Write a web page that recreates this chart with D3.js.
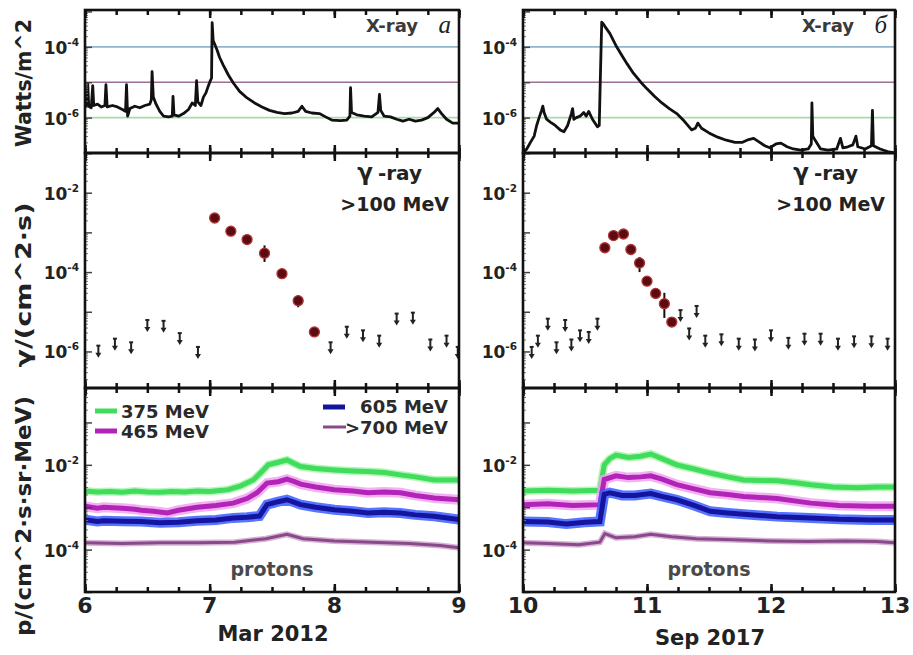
<!DOCTYPE html>
<html>
<head>
<meta charset="utf-8">
<script src="https://cdn.jsdelivr.net/npm/d3@7"></script>
<style>
    body { margin: 0; background: #fff; }
    svg { display: block; font-family: "DejaVu Sans", sans-serif; font-weight: bold; }
</style>
</head>
<body>
<svg id="chart" width="913" height="655"></svg>
<script>
// GOES X-ray flux, W/m^2  [day, flux]
const xrayMar = [
    [6.00, 2.0e-6], [6.015, 2.3e-6], [6.022, 9e-6], [6.03, 2.1e-6], [6.05, 1.9e-6], [6.062, 8e-6],
    [6.07, 2.2e-6], [6.10, 2.4e-6], [6.13, 2.0e-6], [6.16, 2.2e-6], [6.168, 8.5e-6], [6.178, 2.0e-6],
    [6.22, 2.2e-6], [6.26, 2.0e-6], [6.30, 1.7e-6], [6.325, 1.5e-6], [6.333, 8.5e-6], [6.342, 1.1e-6],
    [6.36, 1.8e-6], [6.40, 2.1e-6], [6.44, 1.9e-6], [6.48, 2.2e-6], [6.52, 2.4e-6], [6.532, 3.2e-6],
    [6.538, 2.0e-5], [6.548, 3.8e-6], [6.57, 2.4e-6], [6.60, 1.5e-6], [6.63, 1.1e-6], [6.67, 1.05e-6],
    [6.70, 1.1e-6], [6.706, 4e-6], [6.714, 1.2e-6], [6.75, 1.1e-6], [6.79, 1.3e-6], [6.83, 1.7e-6],
    [6.86, 2.6e-6], [6.885, 2.2e-6], [6.895, 1.1e-5], [6.905, 2.8e-6], [6.93, 2.2e-6], [6.95, 3.8e-6],
    [6.97, 5e-6], [6.99, 8e-6], [7.005, 1.1e-5], [7.015, 1.3e-5], [7.02, 4.8e-4], [7.028, 1.5e-4],
    [7.04, 1.2e-4], [7.06, 8e-5], [7.08, 5e-5], [7.11, 3e-5], [7.15, 1.6e-5], [7.19, 9.5e-6],
    [7.24, 5.5e-6], [7.30, 3.6e-6], [7.36, 2.6e-6], [7.42, 2.0e-6], [7.48, 1.6e-6], [7.54, 1.4e-6],
    [7.60, 1.3e-6], [7.66, 1.35e-6], [7.71, 1.5e-6], [7.74, 2.1e-6], [7.77, 1.5e-6], [7.82, 1.35e-6],
    [7.88, 1.3e-6], [7.93, 1.05e-6], [7.98, 8.5e-7], [8.05, 8.2e-7], [8.10, 8.5e-7], [8.125, 1.1e-6],
    [8.13, 7e-6], [8.138, 1.4e-6], [8.18, 1.2e-6], [8.24, 1.1e-6], [8.30, 1.05e-6], [8.35, 1.4e-6],
    [8.362, 4.5e-6], [8.372, 1.6e-6], [8.40, 1.1e-6], [8.45, 1.05e-6], [8.50, 9e-7], [8.55, 8e-7],
    [8.60, 9e-7], [8.65, 8e-7], [8.70, 8.5e-7], [8.75, 1.0e-6], [8.80, 1.4e-6], [8.83, 1.8e-6],
    [8.86, 1.3e-6], [8.90, 9e-7], [8.95, 7e-7], [9.00, 7e-7]
];

const xraySep = [
    [10.00, 1.0e-7], [10.03, 1.3e-7], [10.06, 2.0e-7], [10.09, 3.0e-7], [10.11, 6e-7], [10.13, 1.0e-6],
    [10.15, 1.6e-6], [10.16, 2.1e-6], [10.17, 1.4e-6], [10.19, 9e-7], [10.22, 7.5e-7], [10.26, 6e-7],
    [10.30, 4.5e-7], [10.33, 4e-7], [10.36, 6e-7], [10.39, 1.3e-6], [10.40, 1.8e-6], [10.41, 9e-7],
    [10.43, 1.0e-6], [10.46, 1.1e-6], [10.49, 1.4e-6], [10.51, 1.1e-6], [10.53, 1.5e-6], [10.56, 9e-7],
    [10.60, 5.5e-7], [10.615, 6e-7], [10.625, 2e-5], [10.635, 5e-4], [10.645, 4.6e-4], [10.66, 3.8e-4],
    [10.70, 2.4e-4], [10.755, 1.0e-4], [10.80, 5.5e-5], [10.84, 3.3e-5], [10.89, 1.8e-5], [10.95, 1.0e-5],
    [11.00, 6.5e-6], [11.06, 4.0e-6], [11.12, 2.6e-6], [11.18, 1.8e-6], [11.24, 1.3e-6], [11.30, 8e-7],
    [11.36, 4.5e-7], [11.39, 5e-7], [11.41, 7e-7], [11.44, 5e-7], [11.50, 3.7e-7], [11.57, 2.8e-7],
    [11.64, 2.3e-7], [11.71, 2.0e-7], [11.77, 2.0e-7], [11.82, 2.4e-7], [11.86, 2.6e-7], [11.90, 2.1e-7],
    [11.95, 1.6e-7], [11.99, 1.4e-7], [12.04, 1.8e-7], [12.08, 1.9e-7], [12.13, 1.5e-7], [12.18, 1.3e-7],
    [12.24, 1.2e-7], [12.30, 1.3e-7], [12.325, 1.8e-7], [12.33, 2.6e-6], [12.337, 3e-7], [12.35, 2.5e-7],
    [12.40, 1.3e-7], [12.46, 1.2e-7], [12.53, 1.3e-7], [12.56, 2.6e-7], [12.58, 1.4e-7], [12.62, 1.5e-7],
    [12.66, 1.7e-7], [12.685, 3.0e-7], [12.70, 1.5e-7], [12.76, 1.3e-7], [12.81, 1.6e-7], [12.818, 1.6e-6],
    [12.826, 1.6e-7], [12.88, 1.3e-7], [12.94, 1.1e-7], [13.00, 1.0e-7]
];

const flareClassLevels = [1e-4, 1e-5, 1e-6];
const flareClassColors = ["#8fb4cc", "#9c6f96", "#a9d9a9"];

// Fermi-LAT >100 MeV: detections [day, flux, low, high], upper limits [day, flux]
const gammaMar = [
    [7.04, 2.3e-3], [7.17, 1.07e-3], [7.30, 6.6e-4], [7.44, 3.0e-4, 1.8e-4, 4.7e-4],
    [7.58, 9.1e-5], [7.71, 1.9e-5, 1.3e-5, 2.6e-5], [7.84, 3.1e-6]
];
const gammaMarLimits = [
    [6.107, 1.4e-6], [6.24, 2.1e-6], [6.37, 1.7e-6], [6.50, 6.2e-6], [6.63, 5.9e-6], [6.76, 2.9e-6],
    [6.906, 1.3e-6], [7.97, 1.7e-6], [8.10, 4.2e-6], [8.23, 3.4e-6], [8.36, 2.5e-6], [8.50, 9.0e-6],
    [8.63, 9.5e-6], [8.77, 2.0e-6], [8.90, 2.5e-6], [8.99, 1.3e-6]
];
const gammaSep = [
    [10.66, 4.1e-4], [10.73, 8.3e-4], [10.81, 9.1e-4], [10.87, 3.7e-4, 2.8e-4, 5.0e-4],
    [10.94, 1.7e-4, 1.0e-4, 2.4e-4], [11.00, 5.9e-5], [11.07, 2.9e-5], [11.14, 1.6e-5, 7e-6, 3e-5],
    [11.20, 5.5e-6]
];
const gammaSepLimits = [
    [10.07, 1.3e-6], [10.12, 2.5e-6], [10.20, 6.7e-6], [10.27, 1.7e-6], [10.34, 6.2e-6], [10.39, 2.0e-6],
    [10.46, 3.4e-6], [10.53, 3.1e-6], [10.60, 6.7e-6], [11.27, 1.1e-5], [11.34, 3.8e-6], [11.40, 1.4e-5],
    [11.47, 2.5e-6], [11.60, 2.7e-6], [11.74, 2.1e-6], [11.87, 2.0e-6], [12.00, 3.4e-6], [12.14, 2.2e-6],
    [12.27, 2.8e-6], [12.40, 2.8e-6], [12.54, 2.1e-6], [12.67, 2.4e-6], [12.81, 2.4e-6], [12.94, 2.1e-6]
];

// proton fluxes, p/(cm^2 s sr MeV)  [day, flux]
const p375Mar = [
    [6.0, 2.4e-3], [6.1, 2.3e-3], [6.2, 2.35e-3], [6.3, 2.25e-3], [6.4, 2.4e-3], [6.5, 2.3e-3],
    [6.6, 2.25e-3], [6.7, 2.35e-3], [6.8, 2.3e-3], [6.9, 2.4e-3], [7.0, 2.35e-3], [7.1, 2.5e-3],
    [7.15, 2.6e-3], [7.25, 3.2e-3], [7.35, 4.4e-3], [7.42, 7e-3], [7.47, 1.0e-2], [7.55, 1.15e-2],
    [7.62, 1.3e-2], [7.67, 1.1e-2], [7.73, 9.1e-3], [7.85, 8.2e-3], [8.0, 7.6e-3], [8.15, 7.2e-3],
    [8.27, 7.0e-3], [8.4, 6.6e-3], [8.53, 5.8e-3], [8.65, 5.2e-3], [8.8, 4.4e-3], [9.0, 4.4e-3]
];
const p465Mar = [
    [6.0, 1.05e-3], [6.1, 9.5e-4], [6.15, 1.0e-3], [6.3, 9.5e-4], [6.4, 9e-4], [6.45, 8.5e-4],
    [6.55, 8e-4], [6.66, 7.3e-4], [6.75, 8.5e-4], [6.9, 1.0e-3], [7.05, 1.1e-3], [7.19, 1.25e-3],
    [7.3, 1.6e-3], [7.38, 2.2e-3], [7.46, 3.7e-3], [7.55, 4.0e-3], [7.62, 4.6e-3], [7.68, 4.0e-3],
    [7.73, 3.5e-3], [7.85, 3.0e-3], [8.0, 2.6e-3], [8.15, 2.4e-3], [8.27, 2.2e-3], [8.4, 2.3e-3],
    [8.53, 2.2e-3], [8.65, 1.9e-3], [8.8, 1.65e-3], [9.0, 1.5e-3]
];
const p605Mar = [
    [6.0, 5.1e-4], [6.1, 4.6e-4], [6.15, 4.8e-4], [6.3, 4.7e-4], [6.45, 4.6e-4], [6.6, 4.3e-4],
    [6.75, 4.4e-4], [6.9, 4.8e-4], [7.05, 5.0e-4], [7.19, 5.6e-4], [7.3, 5.8e-4], [7.4, 6.2e-4],
    [7.46, 1.15e-3], [7.55, 1.35e-3], [7.62, 1.5e-3], [7.68, 1.3e-3], [7.73, 1.15e-3], [7.85, 1.0e-3],
    [8.0, 8.7e-4], [8.15, 8.0e-4], [8.27, 7.3e-4], [8.4, 7.6e-4], [8.53, 7.3e-4], [8.65, 6.6e-4],
    [8.8, 6.1e-4], [9.0, 5.1e-4]
];
const p700Mar = [
    [6.0, 1.45e-4], [6.3, 1.4e-4], [6.6, 1.45e-4], [6.9, 1.45e-4], [7.2, 1.5e-4], [7.45, 1.8e-4],
    [7.62, 2.3e-4], [7.75, 1.8e-4], [8.0, 1.6e-4], [8.3, 1.5e-4], [8.6, 1.4e-4], [8.85, 1.25e-4],
    [9.0, 1.1e-4]
];
const p375Sep = [
    [10.0, 2.4e-3], [10.2, 2.5e-3], [10.4, 2.4e-3], [10.62, 2.5e-3], [10.655, 1.0e-2], [10.7, 1.4e-2],
    [10.75, 1.7e-2], [10.85, 1.5e-2], [10.95, 1.6e-2], [11.03, 1.8e-2], [11.12, 1.4e-2], [11.24, 1.0e-2],
    [11.38, 8.0e-3], [11.51, 6.4e-3], [11.65, 5.2e-3], [11.78, 4.4e-3], [11.92, 4.3e-3], [12.05, 4.2e-3],
    [12.2, 3.8e-3], [12.32, 3.4e-3], [12.5, 3.0e-3], [12.7, 2.9e-3], [12.85, 3.0e-3], [13.0, 3.0e-3]
];
const p465Sep = [
    [10.0, 1.15e-3], [10.2, 1.2e-3], [10.4, 1.1e-3], [10.62, 1.15e-3], [10.655, 4.5e-3], [10.75, 5.5e-3],
    [10.85, 5.0e-3], [10.95, 5.2e-3], [11.03, 5.5e-3], [11.12, 4.6e-3], [11.24, 3.4e-3], [11.38, 2.7e-3],
    [11.51, 2.2e-3], [11.65, 2.0e-3], [11.78, 1.8e-3], [12.05, 1.6e-3], [12.32, 1.25e-3], [12.55, 1.1e-3],
    [12.8, 1.05e-3], [13.0, 1.05e-3]
];
const p605Sep = [
    [10.0, 4.6e-4], [10.2, 4.5e-4], [10.35, 4.0e-4], [10.5, 4.4e-4], [10.62, 4.6e-4], [10.655, 2.0e-3],
    [10.7, 2.2e-3], [10.8, 1.9e-3], [10.9, 1.9e-3], [11.03, 2.1e-3], [11.12, 1.8e-3], [11.24, 1.5e-3],
    [11.38, 1.1e-3], [11.51, 8.0e-4], [11.65, 7.3e-4], [11.78, 6.8e-4], [12.05, 6.0e-4], [12.32, 5.6e-4],
    [12.55, 5.2e-4], [12.8, 5.0e-4], [13.0, 5.0e-4]
];
const p700Sep = [
    [10.0, 1.45e-4], [10.2, 1.4e-4], [10.45, 1.3e-4], [10.62, 1.5e-4], [10.66, 2.4e-4], [10.75, 1.9e-4],
    [10.9, 2.0e-4], [11.03, 2.3e-4], [11.2, 2.0e-4], [11.4, 1.8e-4], [11.7, 1.7e-4], [12.0, 1.6e-4],
    [12.3, 1.55e-4], [12.6, 1.6e-4], [12.85, 1.55e-4], [13.0, 1.45e-4]
];

const protonChannels = ["375 MeV", "465 MeV", "605 MeV", ">700 MeV"];
const protonInk = ["#3fdc5e", "#b224b8", "#14149e", "#8a4a8a"];
const protonGlow = ["#a8f4a8", "#f0a4ee", "#3a5cff", "#cfa6cf"];

const dayTicksMar = [6, 7, 8, 9];
const dayTicksSep = [10, 11, 12, 13];
const xrayTickExps = [-4, -6];
const gammaTickExps = [-2, -4, -6];
const protonTickExps = [-2, -4];

const columns = [
    { id: "mar", x0: 85, x1: 459, days: dayTicksMar, date: "Mar 2012", dateY: 641, letter: "а",
      xray: xrayMar, gamma: gammaMar, limits: gammaMarLimits, protons: [p375Mar, p465Mar, p605Mar, p700Mar] },
    { id: "sep", x0: 523, x1: 895, days: dayTicksSep, date: "Sep 2017", dateY: 645, letter: "б",
      xray: xraySep, gamma: gammaSep, limits: gammaSepLimits, protons: [p375Sep, p465Sep, p605Sep, p700Sep] }
];

const rows = [
    { id: "xray", y0: 10, y1: 153, domain: [1e-7, 1.1e-3], exps: xrayTickExps },
    { id: "gamma", y0: 153, y1: 388, domain: [1.2e-7, 0.1], exps: gammaTickExps },
    { id: "proton", y0: 388, y1: 592, domain: [1e-5, 0.65], exps: protonTickExps }
];

const svg = d3.select("#chart");
const defs = svg.append("defs");

function logTicks(domain) {
    const major = [];
    const minor = [];
    for (let k = Math.floor(Math.log10(domain[0])); k <= Math.ceil(Math.log10(domain[1])); k++) {
        for (let m = 1; m <= 9; m++) {
            const v = m * 10 ** k;
            if (v < domain[0] || v > domain[1]) continue;
            (m === 1 ? major : minor).push(v);
        }
    }
    return { major, minor };
}

function addTicks(g, axis, transform, stroke, width) {
    g.append("g")
        .attr("transform", transform)
        .call(axis.tickFormat(""))
        .call(a => a.select(".domain").remove())
        .selectAll("line")
        .attr("stroke", stroke)
        .attr("stroke-width", width);
}

function drawXray(g, x, y, col) {
    g.selectAll(".class-line")
        .data(flareClassLevels)
        .join("line")
        .attr("x1", col.x0).attr("x2", col.x1)
        .attr("y1", d => y(d)).attr("y2", d => y(d))
        .attr("stroke", (d, i) => flareClassColors[i])
        .attr("stroke-width", 1.6);

    g.append("path")
        .datum(col.xray)
        .attr("fill", "none")
        .attr("stroke", "#111")
        .attr("stroke-width", 2.8)
        .attr("stroke-linejoin", "round")
        .attr("d", d3.line().x(d => x(d[0])).y(d => y(d[1])));
}

function drawGamma(g, x, y, col) {
    // upper limits: short bar with a downward arrowhead
    const lim = g.selectAll(".limit")
        .data(col.limits)
        .join("g")
        .attr("transform", d => `translate(${x(d[0])},${y(d[1])})`);
    lim.append("line").attr("x1", -2).attr("x2", 2).attr("y1", 0).attr("y2", 0)
        .attr("stroke", "#222").attr("stroke-width", 2);
    lim.append("line").attr("x1", 0).attr("x2", 0).attr("y1", 0).attr("y2", 8)
        .attr("stroke", "#222").attr("stroke-width", 2);
    lim.append("path").attr("d", "M-3,7L3,7L0,12Z").attr("fill", "#222");

    g.selectAll(".err")
        .data(col.gamma.filter(d => d.length > 2))
        .join("line")
        .attr("x1", d => x(d[0])).attr("x2", d => x(d[0]))
        .attr("y1", d => y(d[3])).attr("y2", d => y(d[2]))
        .attr("stroke", "#111").attr("stroke-width", 2);

    g.selectAll(".det")
        .data(col.gamma)
        .join("circle")
        .attr("cx", d => x(d[0]))
        .attr("cy", d => y(d[1]))
        .attr("r", 5)
        .attr("fill", "#5a0c12")
        .attr("stroke", "#b23434")
        .attr("stroke-width", 1.3);
}

function drawProtons(g, x, y, col) {
    const line = d3.line().x(d => x(d[0])).y(d => y(d[1]));
    col.protons.forEach((series, i) => {
        const thin = i === 3;
        g.append("path").datum(series)
            .attr("fill", "none")
            .attr("stroke", protonGlow[i])
            .attr("stroke-width", thin ? 6 : i === 0 ? 8 : 10)
            .attr("stroke-opacity", 0.85)
            .attr("d", line);
        g.append("path").datum(series)
            .attr("fill", "none")
            .attr("stroke", protonInk[i])
            .attr("stroke-width", thin ? 3 : 5)
            .attr("d", line);
    });
}

function supLabel(sel, x, y, exp, size) {
    const t = sel.append("text")
        .attr("x", x).attr("y", y)
        .attr("text-anchor", "end")
        .attr("font-size", size)
        .attr("fill", "#222");
    t.append("tspan").text("10");
    t.append("tspan").attr("font-size", size * 0.62).attr("dy", -8).text(exp);
}

columns.forEach(col => {
    const x = d3.scaleLinear().domain(d3.extent(col.days)).range([col.x0, col.x1]);
    const quarterDays = d3.range(col.days[0], col.days[3] + 0.01, 0.25);
    const wholeDays = col.days;

    rows.forEach(row => {
        const y = d3.scaleLog().domain(row.domain).range([row.y1, row.y0]);
        const clipId = `clip-${col.id}-${row.id}`;
        defs.append("clipPath").attr("id", clipId)
            .append("rect")
            .attr("x", col.x0).attr("y", row.y0)
            .attr("width", col.x1 - col.x0).attr("height", row.y1 - row.y0);

        const panel = svg.append("g");
        const plot = panel.append("g").attr("clip-path", `url(#${clipId})`);

        if (row.id === "xray") drawXray(plot, x, y, col);
        if (row.id === "gamma") drawGamma(plot, x, y, col);
        if (row.id === "proton") drawProtons(plot, x, y, col);

        // inward ticks
        const yt = logTicks(row.domain);
        addTicks(panel, d3.axisLeft(y).tickValues(yt.minor).tickSize(-3), `translate(${col.x0},0)`, "#777", 1);
        addTicks(panel, d3.axisLeft(y).tickValues(yt.major).tickSize(-7), `translate(${col.x0},0)`, "#444", 1.5);
        addTicks(panel, d3.axisBottom(x).tickValues(quarterDays).tickSize(-5), `translate(0,${row.y1})`, "#111", 2.5);
        addTicks(panel, d3.axisBottom(x).tickValues(wholeDays).tickSize(-8), `translate(0,${row.y1})`, "#111", 2.5);
        addTicks(panel, d3.axisTop(x).tickValues(quarterDays).tickSize(-5), `translate(0,${row.y0})`, "#111", 2.5);
        addTicks(panel, d3.axisTop(x).tickValues(wholeDays).tickSize(-8), `translate(0,${row.y0})`, "#111", 2.5);

        panel.append("rect")
            .attr("x", col.x0).attr("y", row.y0)
            .attr("width", col.x1 - col.x0).attr("height", row.y1 - row.y0)
            .attr("fill", "none")
            .attr("stroke", "#111")
            .attr("stroke-width", 2.6);

        row.exps.forEach(e => supLabel(panel, col.x0 - 6, y(10 ** e) + 7, String(e), 17));
    });

    // panel texts
    svg.append("text")
        .attr("x", col.x1 - 41).attr("y", 32)
        .attr("text-anchor", "end").attr("font-size", 18).attr("fill", "#3a3a3a")
        .text("X-ray");
    svg.append("text")
        .attr("x", col.x1 - 8).attr("y", 33)
        .attr("text-anchor", "end")
        .attr("font-family", "'Liberation Serif', 'DejaVu Serif', serif")
        .attr("font-style", "italic").attr("font-weight", "normal")
        .attr("font-size", 25).attr("fill", "#222")
        .text(col.letter);

    const gammaTitle = svg.append("text")
        .attr("x", col.x1 - 37).attr("y", 180)
        .attr("text-anchor", "end").attr("fill", "#222");
    gammaTitle.append("tspan").attr("font-size", 23).text("γ");
    gammaTitle.append("tspan").attr("font-size", 20).attr("dx", 5).text("-ray");
    svg.append("text")
        .attr("x", col.x1 - 10).attr("y", 211)
        .attr("text-anchor", "end").attr("font-size", 19).attr("fill", "#222")
        .text(">100 MeV");

    svg.append("text")
        .attr("x", (col.x0 + col.x1) / 2).attr("y", 576)
        .attr("text-anchor", "middle").attr("font-size", 19).attr("fill", "#4a4a4a")
        .text("protons");

    // day labels and date
    svg.append("g")
        .selectAll("text")
        .data(col.days)
        .join("text")
        .attr("x", d => x(d)).attr("y", 613)
        .attr("text-anchor", "middle").attr("font-size", 22).attr("fill", "#222")
        .text(d => d);
    svg.append("text")
        .attr("x", (col.x0 + col.x1) / 2 + 1).attr("y", col.dateY)
        .attr("text-anchor", "middle").attr("font-size", 21).attr("fill", "#222")
        .text(col.date);
});

// proton legend (left panel only)
const legendSpots = [
    { x1: 95, x2: 117, y: 411, tx: 121, ty: 418, anchor: "start" },
    { x1: 95, x2: 117, y: 431, tx: 121, ty: 438, anchor: "start" },
    { x1: 323, x2: 345, y: 407, tx: 448, ty: 413, anchor: "end" },
    { x1: 323, x2: 346, y: 427, tx: 448, ty: 434, anchor: "end" }
];
protonChannels.forEach((label, i) => {
    const s = legendSpots[i];
    svg.append("line")
        .attr("x1", s.x1).attr("x2", s.x2).attr("y1", s.y).attr("y2", s.y)
        .attr("stroke", protonInk[i]).attr("stroke-width", i === 3 ? 3 : 5);
    svg.append("text")
        .attr("x", s.tx).attr("y", s.ty)
        .attr("text-anchor", s.anchor).attr("font-size", 18).attr("fill", "#2a2a2a")
        .text(label);
});

// y-axis titles
const yTitles = [
    { text: "Watts/m^2", cy: 83, len: 128 },
    { text: "γ/(cm^2·s)", cy: 285, len: 165 },
    { text: "p/(cm^2·s·sr·MeV)", cy: 516, len: 240 }
];
yTitles.forEach(t => {
    svg.append("text")
        .attr("transform", `translate(31,${t.cy}) rotate(-90)`)
        .attr("text-anchor", "middle")
        .attr("font-size", 21)
        .attr("fill", "#222")
        .attr("textLength", t.len)
        .attr("lengthAdjust", "spacingAndGlyphs")
        .text(t.text);
});
</script>
</body>
</html>
